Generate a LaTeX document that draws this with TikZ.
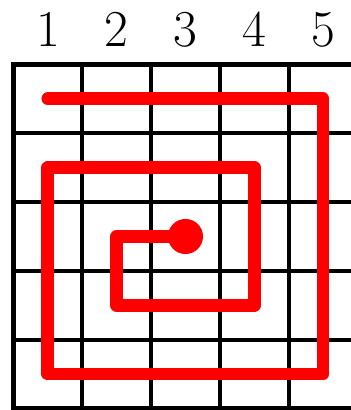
\documentclass[tikz,border=0pt]{standalone}
\begin{document}
\begin{tikzpicture}[x=1cm,y=1cm,
  gridline/.style={line width=1.7pt,black},
  spiral/.style={line width=5.3pt,red,line cap=round,line join=round},
  collabel/.style={anchor=base,inner sep=0pt,font=\fontsize{21.4}{25}\selectfont}]
\useasboundingbox (-0.196,-0.022) rectangle (4.905,5.9375);
\clip (-0.196,-0.022) rectangle (4.905,5.9375);
\draw[gridline] (0,0) rectangle (5,5);
\foreach \i in {1,2,3,4} {
  \draw[gridline] (\i,0) -- (\i,5);
  \draw[gridline] (0,\i) -- (5,\i);
}
\foreach \i in {1,...,5} {
  \node[collabel] (l\i) at (\i-0.5,5.259) {\i};
}
\draw[spiral] (0.5,4.5) -- (4.5,4.5) -- (4.5,0.5) -- (0.5,0.5) -- (0.5,3.5)
  -- (3.5,3.5) -- (3.5,1.5) -- (1.5,1.5) -- (1.5,2.5) -- (2.5,2.5);
\node[circle,fill=red,minimum size=0.51cm,inner sep=0pt] (dot) at (2.5,2.5) {};
\end{tikzpicture}
\end{document}
